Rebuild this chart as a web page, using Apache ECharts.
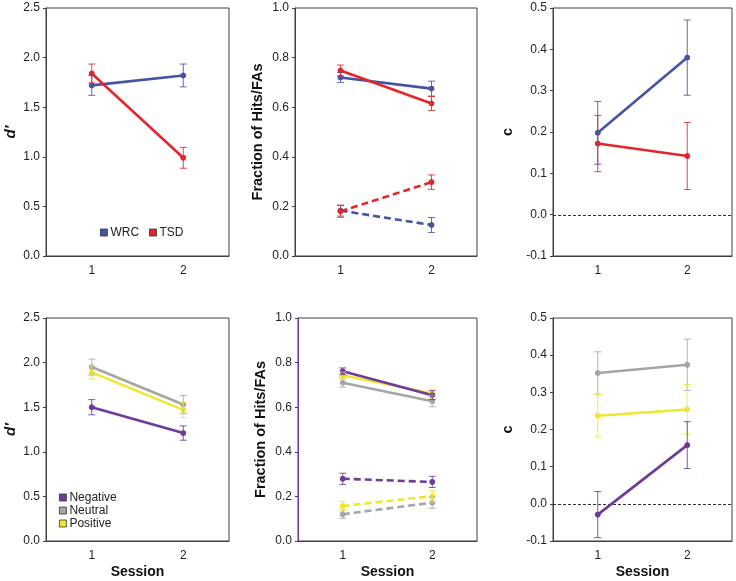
<!DOCTYPE html>
<html>
<head>
<meta charset="utf-8">
<script src="https://cdn.jsdelivr.net/npm/echarts@6/dist/echarts.min.js"></script>
<style>
  html, body { margin: 0; padding: 0; background: #fff; }
  #chart { width: 736px; height: 581px; }
</style>
</head>
<body>
<div id="chart"></div>
<script>
// categories
const sessions = ["1", "2"];
// reference level drawn dashed in the criterion (c) panels
const cReference = 0;

// top row: WRC vs TSD (mean, s.e.m.)
const wrcDprime = [1.72, 1.82];
const wrcDprimeErr = [0.10, 0.115];
const tsdDprime = [1.84, 0.99];
const tsdDprimeErr = [0.095, 0.105];
const wrcHits = [0.72, 0.675];
const wrcHitsErr = [0.02, 0.03];
const tsdHits = [0.748, 0.615];
const tsdHitsErr = [0.022, 0.028];
const wrcFAs = [0.183, 0.125];
const wrcFAsErr = [0.022, 0.03];
const tsdFAs = [0.18, 0.298];
const tsdFAsErr = [0.024, 0.029];
const wrcC = [0.198, 0.38];
const wrcCErr = [0.076, 0.091];
const tsdC = [0.172, 0.142];
const tsdCErr = [0.068, 0.081];

// bottom row: valence
const negDprime = [1.50, 1.21];
const negDprimeErr = [0.085, 0.08];
const neuDprime = [1.95, 1.53];
const neuDprimeErr = [0.09, 0.10];
const posDprime = [1.89, 1.47];
const posDprimeErr = [0.075, 0.085];
const negHits = [0.761, 0.654];
const negHitsErr = [0.015, 0.02];
const neuHits = [0.71, 0.627];
const neuHitsErr = [0.02, 0.025];
const posHits = [0.743, 0.661];
const posHitsErr = [0.015, 0.02];
const negFAs = [0.279, 0.265];
const negFAsErr = [0.025, 0.025];
const neuFAs = [0.12, 0.172];
const neuFAsErr = [0.018, 0.025];
const posFAs = [0.157, 0.201];
const posFAsErr = [0.02, 0.025];
const negC = [-0.029, 0.158];
const negCErr = [0.062, 0.063];
const neuC = [0.352, 0.374];
const neuCErr = [0.057, 0.069];
const posC = [0.237, 0.254];
const posCErr = [0.057, 0.067];

const BLUE = "#4453a4";
const RED = "#e3262b";
const PURPLE = "#6e3a9b";
const GRAY = "#a6a6a6";
const YELLOW = "#efe72e";
const AXIS = "#404040";
const FONT = "Liberation Sans";

const chart = echarts.init(document.getElementById("chart"));

// grid boxes
const grids = [
    { left: 46, top: 8, width: 183, height: 248 },
    { left: 295, top: 8, width: 182, height: 248 },
    { left: 553, top: 8, width: 179, height: 248 },
    { left: 46, top: 318, width: 183, height: 223 },
    { left: 298, top: 318, width: 179, height: 223 },
    { left: 553, top: 318, width: 179, height: 223 },
].map(g => Object.assign(g, { show: true, borderColor: AXIS, borderWidth: 1 }));

const xAxes = grids.map((g, i) => ({
    type: "category",
    gridIndex: i,
    data: sessions,
    boundaryGap: true,
    axisLine: { onZero: false, lineStyle: { color: AXIS } },
    axisTick: { show: false },
    axisLabel: { color: "#222", fontSize: 12, fontFamily: FONT, margin: 9 },
    name: i >= 3 ? "Session" : "",
    nameLocation: "middle",
    nameGap: 24,
    nameTextStyle: { fontSize: 14, fontWeight: "bold", color: "#111", fontFamily: FONT },
}));

function yAxis(i, min, max, interval, name, gap, italic, lineColor) {
    return {
        type: "value",
        gridIndex: i,
        min: min,
        max: max,
        interval: interval,
        splitLine: { show: false },
        axisLine: { show: true, lineStyle: { color: lineColor || AXIS } },
        axisTick: { show: true, inside: false, length: 3, lineStyle: { color: AXIS } },
        axisLabel: {
            color: "#222", fontSize: 12, fontFamily: FONT, margin: 6,
            formatter: v => v.toFixed(1),
        },
        name: name,
        nameLocation: "middle",
        nameGap: gap,
        nameTextStyle: {
            fontSize: italic ? 15 : 14.5, fontWeight: "bold", fontStyle: italic ? "italic" : "normal",
            color: "#111", fontFamily: FONT,
        },
    };
}

const yAxes = [
    yAxis(0, 0, 2.5, 0.5, "d\u2032", 28, true),
    yAxis(1, 0, 1, 0.2, "Fraction of Hits/FAs", 30, false),
    yAxis(2, -0.1, 0.5, 0.1, "c", 38, false),
    yAxis(3, 0, 2.5, 0.5, "d\u2032", 28, true),
    yAxis(4, 0, 1, 0.2, "Fraction of Hits/FAs", 30, false, PURPLE),
    yAxis(5, -0.1, 0.5, 0.1, "c", 38, false),
];

function lineSeries(name, color, gi, values, dashed) {
    return {
        type: "line",
        name: name,
        xAxisIndex: gi,
        yAxisIndex: gi,
        data: values,
        symbol: "circle",
        symbolSize: 5,
        color: color,
        itemStyle: { color: color, borderColor: color },
        lineStyle: { color: color, width: 2.6, type: dashed ? [7, 4] : "solid" },
        z: 3,
        animation: false,
    };
}

// horizontal dashed line across the whole plot area at a given value
function refLine(gi, level) {
    return {
        type: "custom",
        name: "ref",
        xAxisIndex: gi,
        yAxisIndex: gi,
        data: [[0, level]],
        encode: { x: 0, y: 1 },
        z: 2,
        silent: true,
        animation: false,
        renderItem: (params, api) => {
            const cs = params.coordSys;
            const y = Math.round(api.coord([0, api.value(1)])[1]) + 0.5;
            return {
                type: "line",
                shape: { x1: cs.x, y1: y, x2: cs.x + cs.width, y2: y },
                style: { stroke: "#333", lineWidth: 1, lineDash: [3, 2] },
            };
        },
    };
}

function errSeries(color, gi, values, errs) {
    return {
        type: "custom",
        name: "err",
        xAxisIndex: gi,
        yAxisIndex: gi,
        data: values.map((v, k) => [k, v - errs[k], v + errs[k]]),
        encode: { x: 0, y: [1, 2] },
        z: 4,
        animation: false,
        renderItem: (params, api) => {
            const x = api.value(0);
            const lo = api.coord([x, api.value(1)]);
            const hi = api.coord([x, api.value(2)]);
            const w = 3.5;
            const style = { stroke: color, lineWidth: 1, opacity: 0.85 };
            return {
                type: "group",
                children: [
                    { type: "line", shape: { x1: lo[0], y1: lo[1], x2: hi[0], y2: hi[1] }, style: style },
                    { type: "line", shape: { x1: lo[0] - w, y1: lo[1], x2: lo[0] + w, y2: lo[1] }, style: style },
                    { type: "line", shape: { x1: hi[0] - w, y1: hi[1], x2: hi[0] + w, y2: hi[1] }, style: style },
                ],
            };
        },
    };
}

function pair(name, color, gi, values, errs, dashed) {
    return [errSeries(color, gi, values, errs), lineSeries(name, color, gi, values, dashed)];
}

const series = [].concat(
    [refLine(2, cReference), refLine(5, cReference)],
    pair("WRC", BLUE, 0, wrcDprime, wrcDprimeErr),
    pair("TSD", RED, 0, tsdDprime, tsdDprimeErr),
    pair("WRC", BLUE, 1, wrcHits, wrcHitsErr),
    pair("TSD", RED, 1, tsdHits, tsdHitsErr),
    pair("WRC", BLUE, 1, wrcFAs, wrcFAsErr, true),
    pair("TSD", RED, 1, tsdFAs, tsdFAsErr, true),
    pair("WRC", BLUE, 2, wrcC, wrcCErr),
    pair("TSD", RED, 2, tsdC, tsdCErr),
    pair("Neutral", GRAY, 3, neuDprime, neuDprimeErr),
    pair("Positive", YELLOW, 3, posDprime, posDprimeErr),
    pair("Negative", PURPLE, 3, negDprime, negDprimeErr),
    pair("Neutral", GRAY, 4, neuHits, neuHitsErr),
    pair("Positive", YELLOW, 4, posHits, posHitsErr),
    pair("Negative", PURPLE, 4, negHits, negHitsErr),
    pair("Neutral", GRAY, 4, neuFAs, neuFAsErr, true),
    pair("Positive", YELLOW, 4, posFAs, posFAsErr, true),
    pair("Negative", PURPLE, 4, negFAs, negFAsErr, true),
    pair("Neutral", GRAY, 5, neuC, neuCErr),
    pair("Positive", YELLOW, 5, posC, posCErr),
    pair("Negative", PURPLE, 5, negC, negCErr)
);

const legendText = { fontSize: 12, lineHeight: 13, color: "#222", fontFamily: FONT, padding: [0, 0, 0, -2] };

const options = {
    backgroundColor: "#fff",
    animation: false,
    grid: grids,
    xAxis: xAxes,
    yAxis: yAxes,
    legend: [
        {
            data: ["WRC", "TSD"],
            orient: "horizontal",
            left: 100,
            top: 226,
            padding: 0,
            icon: "rect",
            itemWidth: 7,
            itemHeight: 7,
            itemGap: 10,
            itemStyle: { borderColor: "#333", borderWidth: 0.8 },
            textStyle: legendText,
            selectedMode: false,
        },
        {
            data: ["Negative", "Neutral", "Positive"],
            orient: "vertical",
            left: 59,
            top: 491,
            padding: 0,
            icon: "rect",
            itemWidth: 7,
            itemHeight: 7,
            itemGap: 0,
            itemStyle: { borderColor: "#333", borderWidth: 0.8 },
            textStyle: legendText,
            selectedMode: false,
        },
    ],
    series: series,
};

chart.setOption(options);
window.addEventListener("resize", () => chart.resize());
</script>
</body>
</html>
